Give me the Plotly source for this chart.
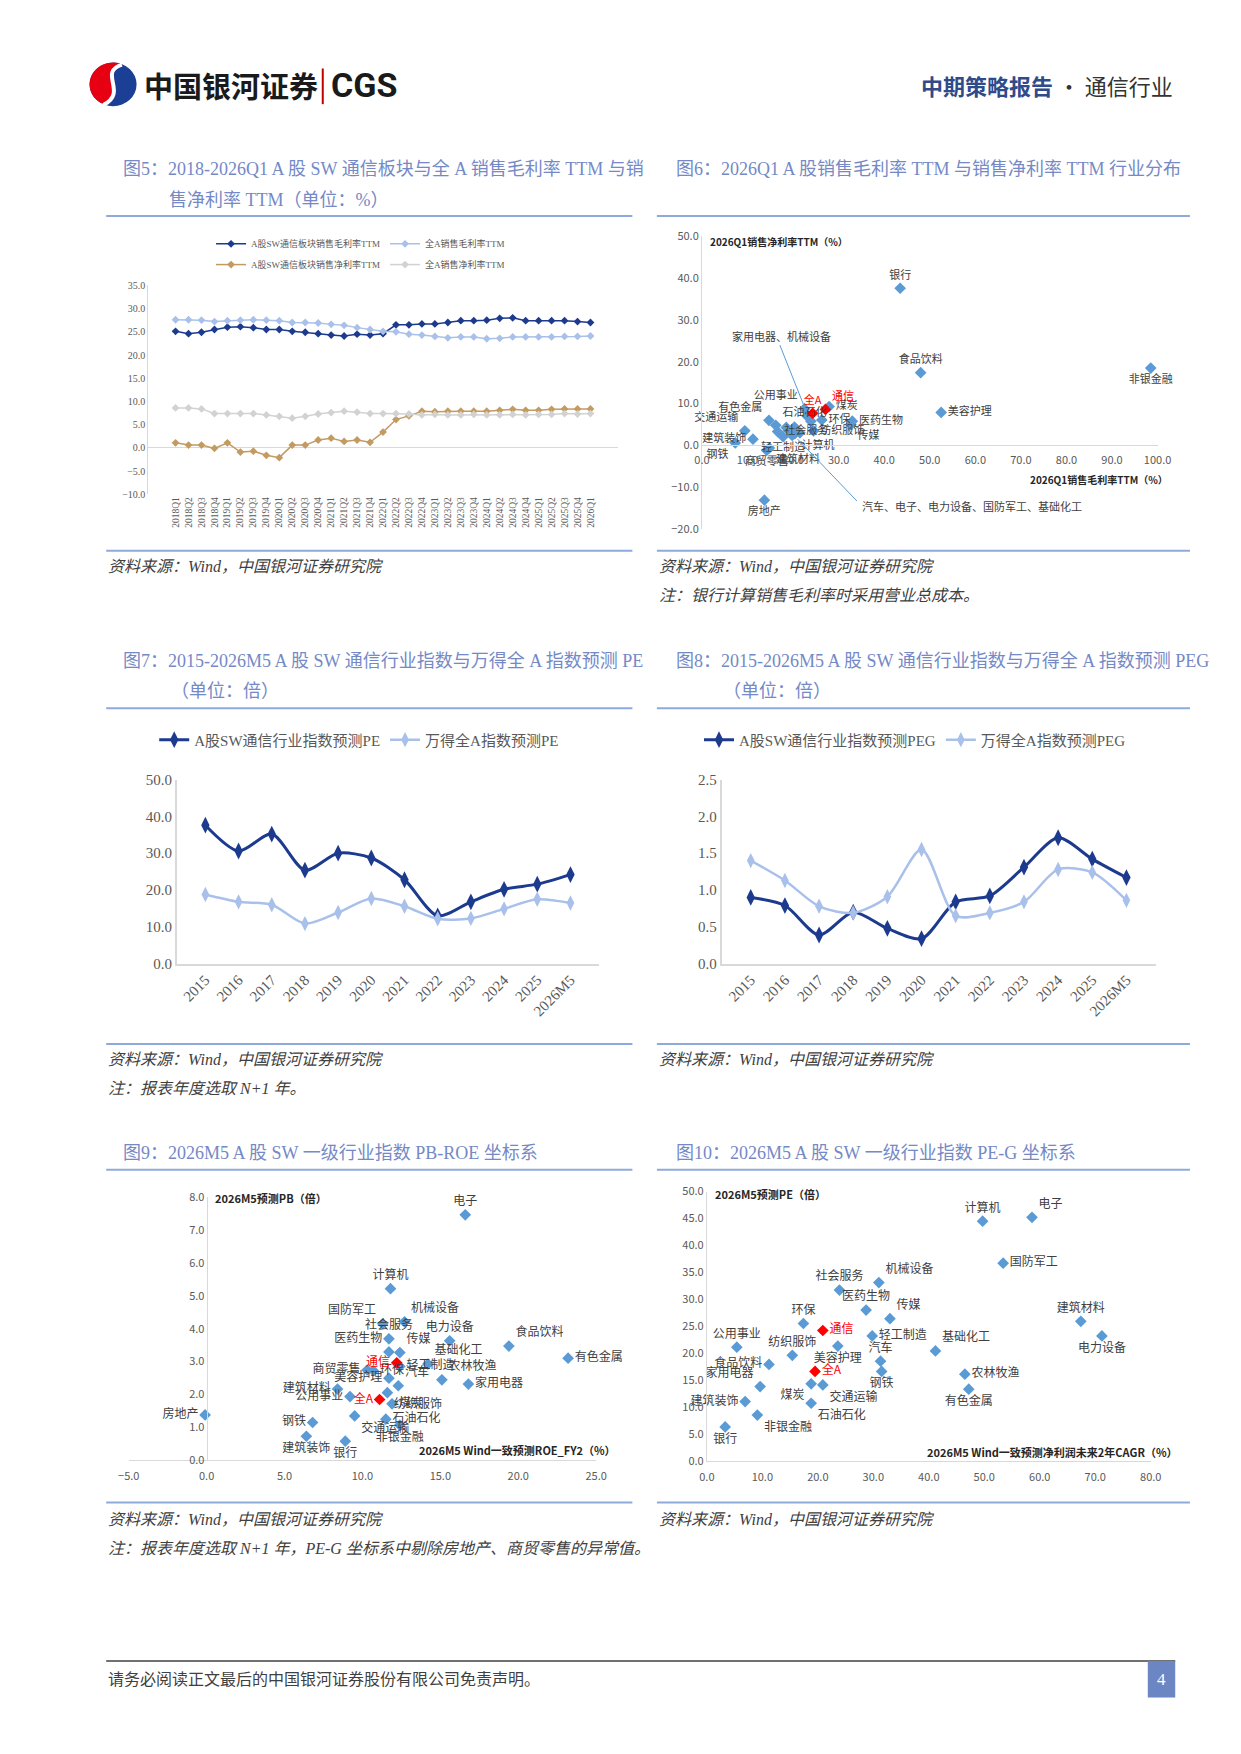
import math
import plotly.graph_objects as go

W, H = 1241, 1754
SERIF = "Liberation Serif, Noto Sans CJK SC, serif"
SANS = "Noto Sans CJK SC, Noto Sans, sans-serif"
NAVY = "#1c3a8e"
PALE = "#a9c1ea"
TAN = "#c39b61"
GREY = "#d2d2d2"
BLUE = "#5b9bd5"
RED = "#ff0000"
AXIS = "#d9d9d9"
TICK = "#595959"
TEXT = "#404040"
TITLE = "#7489c6"
RULE = "#8eaadb"

# ---- 图5: margins TTM (%) ----
quarters = ["2018Q1", "2018Q2", "2018Q3", "2018Q4", "2019Q1", "2019Q2", "2019Q3", "2019Q4",
            "2020Q1", "2020Q2", "2020Q3", "2020Q4", "2021Q1", "2021Q2", "2021Q3", "2021Q4",
            "2022Q1", "2022Q2", "2022Q3", "2022Q4", "2023Q1", "2023Q2", "2023Q3", "2023Q4",
            "2024Q1", "2024Q2", "2024Q3", "2024Q4", "2025Q1", "2025Q2", "2025Q3", "2025Q4",
            "2026Q1"]
comm_gross = [25.1, 24.6, 24.9, 25.5, 26.0, 26.1, 25.9, 25.5, 25.5, 25.1, 24.9, 24.6,
              24.3, 24.1, 24.5, 24.3, 24.6, 26.5, 26.5, 26.7, 26.7, 27.0, 27.4, 27.4,
              27.5, 27.9, 28.0, 27.4, 27.4, 27.4, 27.4, 27.2, 27.0]
alla_gross = [27.6, 27.6, 27.5, 27.2, 27.4, 27.5, 27.6, 27.5, 27.4, 27.0, 27.0, 26.9,
              26.6, 26.4, 25.9, 25.5, 25.1, 25.0, 24.5, 24.3, 24.0, 23.7, 23.9, 23.9,
              23.5, 23.6, 23.9, 23.9, 23.9, 23.9, 24.0, 24.0, 24.1]
comm_net = [1.1, 0.6, 0.6, -0.1, 1.1, -0.9, -0.7, -1.6, -2.1, 0.6, 0.6, 1.7,
            2.1, 1.4, 1.7, 1.2, 3.4, 6.1, 6.9, 7.9, 7.8, 7.9, 7.9, 7.9,
            7.9, 8.1, 8.3, 8.1, 8.1, 8.3, 8.4, 8.4, 8.4]
alla_net = [8.6, 8.6, 8.4, 7.4, 7.4, 7.4, 7.4, 7.1, 6.8, 6.4, 6.8, 7.3,
            7.6, 7.9, 7.7, 7.4, 7.4, 7.4, 7.3, 7.1, 7.2, 7.1, 7.1, 7.2,
            7.1, 7.1, 7.2, 7.1, 7.2, 7.2, 7.4, 7.3, 7.4]

# ---- 图6: 2026Q1 gross vs net margin by industry ----
ind6 = ["银行", "非银金融", "食品饮料", "美容护理", "房地产", "煤炭", "环保", "医药生物", "传媒",
        "有色金属", "交通运输", "建筑装饰", "钢铁", "公用事业", "石油石化", "社会服务", "纺织服饰",
        "轻工制造", "计算机", "建筑材料", "商贸零售", "家用电器", "机械设备", "汽车", "电子",
        "电力设备", "国防军工", "基础化工", "全A", "通信"]
gross6 = [43.5, 98.5, 48.0, 52.5, 13.7, 27.9, 26.3, 33.0, 32.7,
          14.7, 9.4, 11.2, 7.3, 22.5, 16.2, 16.6, 24.5,
          17.8, 20.4, 14.8, 14.2, 23.1, 23.9, 19.0, 20.3,
          19.8, 21.5, 18.5, 24.3, 27.1]
net6 = [37.6, 18.5, 17.4, 7.9, -13.1, 9.3, 6.1, 5.8, 5.0,
        6.0, 3.5, 1.5, 0.6, 8.8, 4.8, 3.3, 3.5,
        2.1, 2.8, -0.6, -1.2, 7.0, 5.8, 3.6, 4.4,
        2.4, 3.0, 4.3, 7.7, 8.6]
hidden6 = ["家用电器", "机械设备", "汽车", "电子", "电力设备", "国防军工", "基础化工"]
pos6 = ["top center", "bottom center", "top center", "middle right", "bottom center", "middle right",
        "middle right", "middle right", "bottom right", "top left", "top left", "middle left",
        "bottom left", "top left", "top right", "middle right", "middle right", "bottom center",
        "bottom right", "bottom right", "bottom center", "top center", "top center", "top center",
        "top center", "top center", "top center", "top center", "top center", "top right"]
lead_text = ["家用电器、机械设备", "汽车、电子、电力设备、国防军工、基础化工"]
lead_from = [(17.1, 24.0), (34.0, -13.3)]
lead_to = [(23.0, 7.8), (21.0, 1.5)]
lead_label = [(17.4, 26.2), (34.6, -14.4)]

# ---- 图7 / 图8: PE & PEG ----
years = ["2015", "2016", "2017", "2018", "2019", "2020", "2021", "2022", "2023", "2024", "2025", "2026M5"]
comm_pe = [37.6, 30.6, 35.2, 25.4, 30.0, 28.7, 22.8, 13.0, 16.8, 20.2, 21.6, 24.2]
alla_pe = [18.8, 16.8, 16.0, 10.9, 13.9, 17.7, 15.6, 12.2, 12.3, 14.9, 17.5, 16.5]
comm_peg = [0.90, 0.79, 0.39, 0.70, 0.48, 0.34, 0.84, 0.92, 1.31, 1.71, 1.42, 1.17]
alla_peg = [1.40, 1.13, 0.78, 0.69, 0.91, 1.55, 0.65, 0.69, 0.84, 1.28, 1.24, 0.86]

# ---- 图9: PB-ROE ----
ind9 = ["电子", "计算机", "国防军工", "机械设备", "社会服务", "电力设备", "食品饮料", "医药生物",
        "传媒", "有色金属", "基础化工", "商贸零售", "环保", "轻工制造", "农林牧渔", "家用电器",
        "建筑材料", "美容护理", "汽车", "纺织服饰", "公用事业", "煤炭", "房地产", "石油石化",
        "钢铁", "非银金融", "交通运输", "建筑装饰", "银行", "全A", "通信"]
roe9 = [16.6, 11.8, 11.3, 12.7, 11.7, 15.6, 19.4, 11.7,
        12.4, 23.2, 14.2, 10.3, 10.7, 12.4, 15.1, 16.8,
        8.4, 11.7, 12.3, 11.6, 9.2, 11.9, -0.1, 11.5,
        6.8, 12.4, 9.5, 6.4, 8.9, 11.1, 12.2]
pb9 = [7.47, 5.22, 4.15, 4.21, 3.69, 3.63, 3.47, 3.29,
       3.27, 3.10, 2.92, 2.74, 2.72, 2.85, 2.44, 2.31,
       2.16, 2.49, 2.26, 2.05, 1.93, 1.71, 1.37, 1.24,
       1.14, 1.06, 1.34, 0.72, 0.57, 1.84, 2.96]
pos9 = ["top center", "top center", "top left", "top right", "top center", "top center", "top right",
        "top left", "top right", "middle right", "top right", "middle left", "middle right",
        "middle right", "top right", "middle right", "middle left", "middle left", "top right",
        "bottom right", "middle left", "middle right", "middle left", "middle right", "middle left",
        "bottom center", "bottom right", "bottom center", "bottom center", "middle left", "middle left"]

# ---- 图10: PE-G ----
ind10 = ["计算机", "电子", "国防军工", "机械设备", "社会服务", "医药生物", "传媒", "建筑材料",
         "环保", "电力设备", "轻工制造", "公用事业", "美容护理", "基础化工", "纺织服饰", "食品饮料",
         "汽车", "钢铁", "农林牧渔", "煤炭", "交通运输", "家用电器", "有色金属", "建筑装饰",
         "石油石化", "非银金融", "银行", "全A", "通信"]
cagr10 = [49.7, 58.6, 53.4, 31.0, 23.9, 28.7, 33.0, 67.4,
          17.4, 71.2, 29.8, 5.4, 23.6, 41.2, 15.4, 11.2,
          31.3, 31.5, 46.5, 18.8, 20.9, 9.6, 47.2, 6.9,
          18.8, 9.1, 3.3, 19.5, 20.9]
pe10 = [44.5, 45.2, 36.7, 33.1, 31.7, 28.0, 26.4, 25.9,
        25.5, 23.2, 23.2, 21.1, 21.3, 20.4, 19.6, 17.9,
        18.5, 16.6, 16.1, 14.3, 14.1, 13.8, 13.3, 11.0,
        10.7, 8.5, 6.3, 16.6, 24.2]
pos10 = ["top center", "top right", "middle right", "top right", "top center", "top center", "top right",
         "top center", "top center", "bottom center", "middle right", "top center", "bottom center",
         "top right", "top center", "middle left", "top center", "bottom center", "middle right",
         "bottom left", "bottom right", "top left", "bottom center", "middle left", "bottom right",
         "bottom right", "bottom center", "middle right", "middle right"]

HIGHLIGHT = ["通信", "全A"]


def px(v):
    return v / W


def py(v):
    return 1 - v / H


def xdom(a, b):
    return [a / W, b / W]


def ydom(top, bottom):
    return [1 - bottom / H, 1 - top / H]


def line_trace(x, y, name, color, width, size, xa, ya, legend, symbol="diamond", spline=False):
    return go.Scatter(
        x=x, y=y, name=name, mode="lines+markers", xaxis=xa, yaxis=ya, legend=legend,
        line=dict(color=color, width=width, shape="spline" if spline else "linear", smoothing=0.8),
        marker=dict(symbol=symbol, size=size, color=color),
    )


def scatter_traces(names, xs, ys, positions, xa, ya, size, hidden=()):
    labels = ["" if n in hidden else n for n in names]
    return go.Scatter(
        x=xs, y=ys, mode="markers+text", text=labels, textposition=positions,
        xaxis=xa, yaxis=ya, showlegend=False, cliponaxis=False,
        marker=dict(symbol="diamond", size=9,
                    color=[RED if n in HIGHLIGHT else BLUE for n in names]),
        textfont=dict(family=SANS, size=size,
                      color=[RED if n in HIGHLIGHT else TEXT for n in names]),
    )


fig = go.Figure()

# 图5
fig.add_trace(line_trace(quarters, comm_gross, "A股SW通信板块销售毛利率TTM", NAVY, 1.5, 6, "x", "y", "legend"))
fig.add_trace(line_trace(quarters, alla_gross, "全A销售毛利率TTM", PALE, 1.5, 6, "x", "y", "legend"))
fig.add_trace(line_trace(quarters, comm_net, "A股SW通信板块销售净利率TTM", TAN, 1.5, 6, "x", "y", "legend4"))
fig.add_trace(line_trace(quarters, alla_net, "全A销售净利率TTM", GREY, 1.5, 6, "x", "y", "legend4"))

# 图6
fig.add_trace(scatter_traces(ind6, gross6, net6, pos6, "x2", "y2", 11, hidden6))

# 图7 / 图8
fig.add_trace(line_trace(years, comm_pe, "A股SW通信行业指数预测PE", NAVY, 3, 12, "x3", "y3", "legend2",
                         "diamond-tall", True))
fig.add_trace(line_trace(years, alla_pe, "万得全A指数预测PE", PALE, 2.5, 11, "x3", "y3", "legend2",
                         "diamond-tall", True))
fig.add_trace(line_trace(years, comm_peg, "A股SW通信行业指数预测PEG", NAVY, 3, 12, "x4", "y4", "legend3",
                         "diamond-tall", True))
fig.add_trace(line_trace(years, alla_peg, "万得全A指数预测PEG", PALE, 2.5, 11, "x4", "y4", "legend3",
                         "diamond-tall", True))

# 图9 / 图10
fig.add_trace(scatter_traces(ind9, roe9, pb9, pos9, "x5", "y5", 12))
fig.add_trace(scatter_traces(ind10, cagr10, pe10, pos10, "x6", "y6", 12))

serif_tick = dict(family=SERIF, size=10, color=TICK)
big_tick = dict(family=SERIF, size=15, color=TICK)
sans_tick = dict(family=SANS, size=11, color=TICK)
common = dict(showgrid=False, ticks="", zeroline=False)

fig.update_layout(
    width=W, height=H, margin=dict(l=0, r=0, t=0, b=0),
    paper_bgcolor="white", plot_bgcolor="rgba(0,0,0,0)",
    xaxis=dict(domain=xdom(132, 611), anchor="y", type="category", tickangle=-90,
               tickfont=dict(family=SERIF, size=9.5, color=TICK), showline=False, **common),
    yaxis=dict(domain=ydom(271, 482), anchor="x", range=[-10, 35], dtick=5, tickformat=".1f",
               tickfont=serif_tick, showline=True, linecolor=AXIS, showgrid=False, ticks="",
               zeroline=True, zerolinecolor=AXIS, zerolinewidth=1),
    xaxis2=dict(domain=xdom(697, 1162), anchor="free", position=py(432.6), range=[0, 100], dtick=10,
                tickformat=".1f", tickfont=sans_tick, showline=True, linecolor=AXIS,
                ticklabelstandoff=4, **common),
    yaxis2=dict(domain=ydom(221.6, 517), anchor="x2", range=[-20, 50], dtick=10, tickformat=".1f",
                tickfont=sans_tick, showline=True, linecolor=AXIS, **common),
    xaxis3=dict(domain=xdom(161, 592), anchor="y3", type="category", tickangle=-45,
                tickfont=big_tick, showline=True, linecolor=AXIS, linewidth=1.5, **common),
    yaxis3=dict(domain=ydom(770, 956), anchor="x3", range=[0, 50], dtick=10, tickformat=".1f",
                tickfont=big_tick, showline=True, linecolor=AXIS, linewidth=1.5, **common),
    xaxis4=dict(domain=xdom(717, 1160), anchor="y4", type="category", tickangle=-45,
                tickfont=big_tick, showline=True, linecolor=AXIS, linewidth=1.5, **common),
    yaxis4=dict(domain=ydom(770, 956), anchor="x4", range=[0, 2.5], dtick=0.5, tickformat=".1f",
                tickfont=big_tick, showline=True, linecolor=AXIS, linewidth=1.5, **common),
    xaxis5=dict(domain=xdom(112, 589), anchor="y5", range=[-5, 25], dtick=5, tickformat=".1f",
                tickfont=sans_tick, showline=True, linecolor=AXIS, ticklabelstandoff=6, **common),
    yaxis5=dict(domain=ydom(1192, 1457), anchor="free", position=px(112 + 477 / 6), range=[0, 8],
                dtick=1, tickformat=".1f", tickfont=sans_tick, showline=True, linecolor=AXIS, **common),
    xaxis6=dict(domain=xdom(702, 1155), anchor="y6", range=[0, 80], dtick=10, tickformat=".1f",
                tickfont=sans_tick, showline=True, linecolor=AXIS, ticklabelstandoff=6, **common),
    yaxis6=dict(domain=ydom(1186, 1458), anchor="x6", range=[0, 50], dtick=5, tickformat=".1f",
                tickfont=sans_tick, showline=True, linecolor=AXIS, **common),
    legend=dict(orientation="h", x=px(196), y=py(229), xanchor="left", yanchor="middle",
                font=dict(family=SERIF, size=9, color=TICK), bgcolor="rgba(0,0,0,0)", itemwidth=30),
    legend4=dict(orientation="h", x=px(196), y=py(250), xanchor="left", yanchor="middle",
                 font=dict(family=SERIF, size=9, color=TICK), bgcolor="rgba(0,0,0,0)", itemwidth=30),
    legend2=dict(orientation="h", x=px(138), y=py(730), xanchor="left", yanchor="middle",
                 font=dict(family=SERIF, size=15, color=TICK), bgcolor="rgba(0,0,0,0)", itemwidth=30),
    legend3=dict(orientation="h", x=px(694), y=py(730), xanchor="left", yanchor="middle",
                 font=dict(family=SERIF, size=15, color=TICK), bgcolor="rgba(0,0,0,0)", itemwidth=30),
)

shapes = []
annotations = []


def text(s, x, y, size, color=TEXT, family=SERIF, xanchor="left"):
    annotations.append(dict(text=s, x=px(x), y=py(y), xref="paper", yref="paper", showarrow=False,
                            xanchor=xanchor, yanchor="middle", font=dict(family=family, size=size, color=color)))


def hline(x0, x1, y, color, width):
    shapes.append(dict(type="line", xref="paper", yref="paper", x0=px(x0), x1=px(x1), y0=py(y), y1=py(y),
                       line=dict(color=color, width=width)))


# header / logo
cx, cy, r = 96, 68, 22
shapes.append(dict(type="circle", xref="paper", yref="paper", x0=px(cx - r - 2), x1=px(cx + r + 2),
                   y0=py(cy + r), y1=py(cy - r), fillcolor="#1b3f94", line=dict(width=0)))
arc = []
for i in range(0, 26):
    a = math.radians(66 + (245 - 66) * i / 25)
    arc.append((cx + (r + 2) * math.cos(a), cy - r * math.sin(a)))
red_path = "M " + " L ".join(f"{px(u):.5f},{py(v):.5f}" for u, v in arc)
red_path += f" C {px(112):.5f},{py(76):.5f} {px(80):.5f},{py(56):.5f} {px(105):.5f},{py(48):.5f} Z"
shapes.append(dict(type="path", xref="paper", yref="paper", path=red_path, fillcolor="#e60012",
                   line=dict(width=0)))
s_path = (f"M {px(105):.5f},{py(48):.5f} C {px(80):.5f},{py(56):.5f} {px(112):.5f},{py(76):.5f} "
          f"{px(86):.5f},{py(89):.5f}")
shapes.append(dict(type="path", xref="paper", yref="paper", path=s_path, line=dict(color="white", width=4)))
text("<b>中国银河证券</b>", 126, 69, 29, "#1a1a1a", SANS)
shapes.append(dict(type="line", xref="paper", yref="paper", x0=px(310), x1=px(310), y0=py(52), y1=py(88),
                   line=dict(color="#c00000", width=2)))
text("<b>CGS</b>", 316, 69, 34, "#1a1a1a", "Roboto, Liberation Sans, sans-serif")
text("<b><span style='color:#2f4b8a'>中期策略报告</span></b> · 通信行业", 1180, 69, 22, "#333333", SANS,
     xanchor="right")

# figure titles
text("图5：2018-2026Q1 A 股 SW 通信板块与全 A 销售毛利率 TTM 与销", 104, 153, 18, TITLE)
text("售净利率 TTM（单位：%）", 151, 185, 18, TITLE)
text("图6：2026Q1 A 股销售毛利率 TTM 与销售净利率 TTM 行业分布", 668, 153, 18, TITLE)
text("图7：2015-2026M5 A 股 SW 通信行业指数与万得全 A 指数预测 PE", 104, 650, 18, TITLE)
text("（单位：倍）", 153, 681, 18, TITLE)
text("图8：2015-2026M5 A 股 SW 通信行业指数与万得全 A 指数预测 PEG", 668, 650, 18, TITLE)
text("（单位：倍）", 716, 681, 18, TITLE)
text("图9：2026M5 A 股 SW 一级行业指数 PB-ROE 坐标系", 104, 1147, 18, TITLE)
text("图10：2026M5 A 股 SW 一级行业指数 PE-G 坐标系", 668, 1147, 18, TITLE)

for y in (201, 539, 698, 1037, 1164, 1500):
    hline(89, 626, y, RULE, 2)
    hline(651, 1195, y, RULE, 2)

# sources / notes
src = "<i>资料来源：Wind，中国银河证券研究院</i>"
for y in (555, 1053, 1517):
    text(src, 89, y, 16)
    text(src, 651, y, 16)
text("<i>注：银行计算销售毛利率时采用营业总成本。</i>", 651, 584, 16)
text("<i>注：报表年度选取 N+1 年。</i>", 89, 1082, 16)
text("<i>注：报表年度选取 N+1 年，PE-G 坐标系中剔除房地产、商贸零售的异常值。</i>", 89, 1546, 16)

# axis titles for scatter charts
text("<b>2026Q1销售净利率TTM（%）</b>", 703, 227, 10, "#262626", SANS)
text("<b>2026Q1销售毛利率TTM（%）</b>", 1175, 467, 10, "#262626", SANS, xanchor="right")
text("<b>2026M5预测PB（倍）</b>", 198, 1193, 11, "#262626", SANS)
text("<b>2026M5 Wind一致预测ROE_FY2（%）</b>", 611, 1447, 11, "#262626", SANS, xanchor="right")
text("<b>2026M5预测PE（倍）</b>", 708, 1189, 11, "#262626", SANS)
text("<b>2026M5 Wind一致预测净利润未来2年CAGR（%）</b>", 1184, 1449, 11, "#262626", SANS, xanchor="right")

# leader lines in 图6
for (x0, y0), (x1, y1) in zip(lead_from, lead_to):
    shapes.append(dict(type="line", xref="x2", yref="y2", x0=x0, y0=y0, x1=x1, y1=y1,
                       line=dict(color=BLUE, width=1)))
for s, (lx, ly), anchor in zip(lead_text, lead_label, ["center", "left"]):
    annotations.append(dict(text=s, x=lx, y=ly, xref="x2", yref="y2", showarrow=False, xanchor=anchor,
                            yanchor="middle", font=dict(family=SANS, size=11, color=TEXT)))

# footer
hline(89, 1180, 1660, "#404040", 1.5)
text("请务必阅读正文最后的中国银河证券股份有限公司免责声明。", 89, 1679, 16)
shapes.append(dict(type="rect", xref="paper", yref="paper", x0=px(1152), x1=px(1180), y0=py(1697),
                   y1=py(1660), fillcolor="#6b86c2", line=dict(width=0)))
text("4", 1166, 1679, 17, "white", SERIF, xanchor="center")

fig.update_layout(shapes=shapes, annotations=annotations)
fig.write_html("out.html")
